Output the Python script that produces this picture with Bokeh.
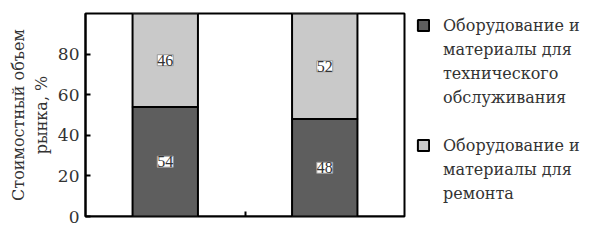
from bokeh.plotting import figure
from bokeh.models import (ColumnDataSource, FixedTicker, Legend, LegendItem,
                          LabelSet, Range1d)
from bokeh.embed import file_html
from bokeh.resources import INLINE

years = ["2010", "2017"]
x_pos = [1, 2]
maintenance = [54, 48]
repair = [46, 52]
y_ticks = [0, 20, 40, 60, 80]
legend_lines_1 = ["Оборудование и", "материалы для", "технического", "обслуживания"]
legend_lines_2 = ["Оборудование и", "материалы для", "ремонта"]
y_label = "Стоимостный объем\nрынка, %"

FONT = "DejaVu Serif"
DARK = "#5e5e5e"
LIGHT = "#c9c9c9"
TXT = "#333333"

totals = [m + r for m, r in zip(maintenance, repair)]
src = ColumnDataSource(dict(
    x=x_pos, m=maintenance, r=repair, tot=totals,
    m_mid=[m / 2 for m in maintenance],
    r_mid=[m + r / 2 for m, r in zip(maintenance, repair)],
    m_txt=[str(v) for v in maintenance],
    r_txt=[str(v) for v in repair],
))

p = figure(frame_width=319, frame_height=203, output_backend="svg",
           toolbar_location=None,
           x_range=Range1d(0.5, 2.5), y_range=Range1d(0, 100),
           min_border_left=85, min_border_right=187, min_border_top=13,
           min_border_bottom=27)
p.background_fill_color = "white"
p.border_fill_color = "white"
p.outline_line_color = "black"
p.outline_line_width = 2
p.xgrid.visible = False
p.ygrid.visible = False

r1 = p.vbar(x="x", width=0.41, bottom=0, top="m", source=src,
            fill_color=DARK, line_color="black", line_width=2)
r2 = p.vbar(x="x", width=0.41, bottom="m", top="tot", source=src,
            fill_color=LIGHT, line_color="black", line_width=2)

for col_y, col_t in (("m_mid", "m_txt"), ("r_mid", "r_txt")):
    ls = LabelSet(x="x", y=col_y, text=col_t, source=src,
                  text_align="center", text_baseline="middle",
                  text_font=FONT, text_font_size="16px", text_color=TXT,
                  background_fill_color="white",
                  border_line_color="#999999", border_line_width=1)
    p.add_layout(ls)

# y axis
ya = p.yaxis[0]
ya.ticker = FixedTicker(ticks=y_ticks)
ya.minor_tick_line_color = None
ya.major_tick_in = 5
ya.major_tick_out = 0
ya.major_tick_line_width = 2
ya.axis_line_width = 2
ya.major_label_text_font = FONT
ya.major_label_text_font_size = "17px"
ya.major_label_text_color = TXT
ya.major_label_standoff = 6
ya.axis_label = y_label
ya.axis_label_text_font = FONT
ya.axis_label_text_font_style = "normal"
ya.axis_label_text_font_size = "16px"
ya.axis_label_text_color = TXT
ya.axis_label_text_align = "center"
ya.axis_label_text_line_height = 1.2
ya.axis_label_standoff = 4

# x axis
xa = p.xaxis[0]
xa.ticker = FixedTicker(ticks=[1, 1.5, 2])
xa.major_label_overrides = {1: years[0], 1.5: "", 2: years[1]}
xa.minor_tick_line_color = None
xa.major_tick_in = 5
xa.major_tick_out = 0
xa.major_tick_line_width = 2
xa.axis_line_width = 2
xa.major_label_text_font = FONT
xa.major_label_text_font_size = "17px"
xa.major_label_text_color = TXT
xa.major_label_standoff = 6
xa.level = "underlay"

items = [LegendItem(label=legend_lines_1[0], renderers=[r1])]
items += [LegendItem(label=t, renderers=[]) for t in legend_lines_1[1:]]
items += [LegendItem(label="\u00a0", renderers=[])]
items += [LegendItem(label=legend_lines_2[0], renderers=[r2])]
items += [LegendItem(label=t, renderers=[]) for t in legend_lines_2[1:]]

legend = Legend(items=items, location=(12, 11), orientation="vertical",
                padding=0, margin=0, spacing=0,
                glyph_width=14, glyph_height=14, label_standoff=13,
                label_height=24,
                label_text_font=FONT, label_text_font_size="16px",
                label_text_color=TXT, label_text_line_height=1.0,
                border_line_color=None, background_fill_alpha=0)
p.add_layout(legend, "right")

open("out.html", "w").write(file_html(p, INLINE))
